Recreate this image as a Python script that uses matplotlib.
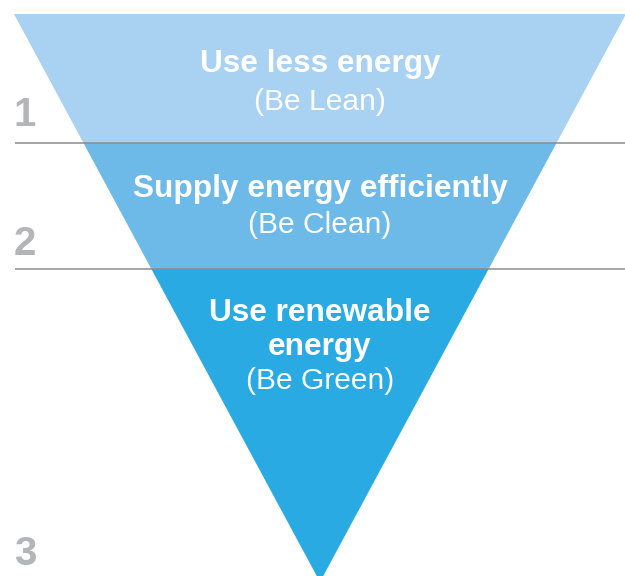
import matplotlib
matplotlib.use("Agg")
import matplotlib.pyplot as plt
from matplotlib.patches import Polygon
import numpy as np

# ---- data ----
tier_numbers = ["1", "2", "3"]
tier_titles = ["Use less energy", "Supply energy efficiently", "Use renewable\nenergy"]
tier_subtitles = ["(Be Lean)", "(Be Clean)", "(Be Green)"]
tier_heights = [129, 126, 313]          # depth of each band of the inverted triangle
tier_colors = ["#A9D1F1", "#6DB9E8", "#29AAE2"]
top_half_width = 306

# ---- figure ----
W, H = 625, 576
fig = plt.figure(figsize=(W / 100, H / 100), dpi=100)
ax = fig.add_axes([0, 0, 1, 1])
ax.set_xlim(-320, W - 320)
ax.set_ylim(H - 14, -14)
ax.axis("off")

total = sum(tier_heights)
bounds = np.concatenate([[0], np.cumsum(tier_heights)])

def half_width(y):
    return top_half_width * (1 - y / total)

font = "Liberation Sans"
for i in range(3):
    y0, y1 = bounds[i], bounds[i + 1]
    w0, w1 = half_width(y0), half_width(y1)
    poly = Polygon([(-w0, y0), (w0, y0), (w1, y1), (-w1, y1)], closed=True,
                   facecolor=tier_colors[i], edgecolor="none", zorder=1)
    ax.add_patch(poly)

# separator lines
for yb in bounds[1:3]:
    ax.plot([-305, W - 320], [yb, yb], color="#8C8C8C", lw=1.1, zorder=2,
            solid_capstyle="butt")

# number labels (baselines)
num_baselines = [112, 241, 551]
for n, yb in zip(tier_numbers, num_baselines):
    ax.text(-306, yb, n, fontsize=29, fontweight="bold", color="#B3B5B8",
            family=font, ha="left", va="baseline", zorder=3)

# titles
title_baselines = [[58], [183], [307, 341]]
sub_baselines = [96, 219, 375]
for i in range(3):
    lines = tier_titles[i].split("\n")
    for line, yb in zip(lines, title_baselines[i]):
        ax.text(0, yb, line, fontsize=22.8, fontweight="bold", color="white",
                family=font, ha="center", va="baseline", zorder=3)
    ax.text(0, sub_baselines[i], tier_subtitles[i], fontsize=21.6, color="white",
            family=font, ha="center", va="baseline", zorder=3)

fig.savefig("out.png", dpi=100, facecolor="white")
